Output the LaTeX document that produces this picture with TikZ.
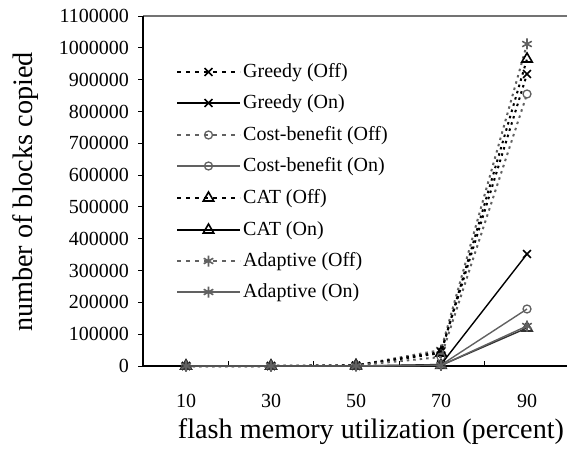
\documentclass[tikz,border=0pt]{standalone}
\usepackage{fontspec}
\setmainfont{Liberation Serif}
\usetikzlibrary{plotmarks}
\begin{document}
\begin{tikzpicture}[x=1pt,y=-1pt,
  tick/.style={font=\fontsize{20}{20}\selectfont},
  ttl/.style={font=\fontsize{28.2}{28.2}\selectfont},
  leg/.style={font=\fontsize{20}{20}\selectfont,anchor=west,inner sep=0pt},
  blk/.style={draw=black},
  gry/.style={draw=black!62},
  dgry/.style={draw=black!80},
  onl/.style={line width=1.4pt},
  offl/.style={line width=2pt,dash pattern=on 2.5pt off 4pt},
  legoff/.style={line width=1.3pt,dash pattern=on 4pt off 5pt},
  legon/.style={line width=1.4pt},
  mx/.style={mark=x,mark size=5.5pt,mark options={solid,line width=1.6pt}},
  mo/.style={mark=o,mark size=4pt,mark options={solid,line width=1.3pt}},
  mt/.style={mark=triangle,mark size=6pt,mark options={solid,line width=1.6pt}},
  ma/.style={mark=asterisk,mark size=5.5pt,mark options={solid,line width=1.6pt}}]
\useasboundingbox (0,0) rectangle (567,454);
% axes
\draw[black!55,line width=1.2pt] (143,16) -- (567,16);
\draw[black,line width=1.3pt] (143,16) -- (143,366) -- (567,366);
\foreach \i/\vv in {0/0,1/100000,2/200000,3/300000,4/400000,5/500000,6/600000,7/700000,8/800000,9/900000,10/1000000,11/1100000}{
  \pgfmathsetmacro{\yy}{366-\i*31.8}
  \draw[line width=1pt] (138,\yy) -- (143,\yy);
  \node[tick,anchor=east,inner sep=0pt] (yl\i) at (129,\yy) {\vv};
}
\foreach \xx in {228.6,313.9,399.2,484.5}{\draw[line width=1pt] (\xx,361) -- (\xx,366);}
\foreach \xx/\l in {186/10,271/30,356/50,441/70,527/90}{\node[tick] (xl\l) at (\xx,401) {\l};}
\node[ttl] (xt) at (371,432) {flash memory utilization (percent)};
\node[ttl,rotate=90] (yt) at (26,192) {number of blocks copied};
% off lines
\draw[offl,gry,ma] plot coordinates {(186,366) (271,366) (356,365.4) (441,350) (527,44)};
\draw[offl,blk,mt] plot coordinates {(186,366) (271,366) (356,365.4) (441,353) (527,59)};
\draw[offl,blk,mx] plot coordinates {(186,366) (271,366) (356,365.4) (441,352) (527,74)};
\draw[offl,gry,mo] plot coordinates {(186,366) (271,366) (356,365.5) (441,357) (527,94)};
% on lines
\draw[onl,blk,mx] plot coordinates {(186,366) (271,366) (356,366) (441,364.5) (527,254)};
\draw[onl,gry,mo] plot coordinates {(186,366) (271,366) (356,366) (441,365) (527,309)};
\draw[onl,dgry,mt] plot coordinates {(186,366) (271,366) (356,366) (441,365.4) (527,328)};
\draw[onl,gry,ma] plot coordinates {(186,366) (271,366) (356,366) (441,365.4) (527,326)};
% legend
\foreach \yy/\ls/\cl/\mk/\txt/\nm in {
  72/legoff/blk/mx/Greedy (Off)/l1,
  103/legon/blk/mx/Greedy (On)/l2,
  135/legoff/gry/mo/Cost-benefit (Off)/l3,
  166/legon/gry/mo/Cost-benefit (On)/l4,
  198/legoff/blk/mt/CAT (Off)/l5,
  230/legon/blk/mt/CAT (On)/l6,
  261/legoff/gry/ma/Adaptive (Off)/l7,
  292/legon/gry/ma/Adaptive (On)/l8}{
  \coordinate (\nm a) at (177,\yy);
  \coordinate (\nm b) at (240,\yy);
  \draw[\ls,\cl] (\nm a) -- (\nm b);
  \draw[\ls,\cl,\mk] plot coordinates {(208.5,\yy)};
  \node[leg] (\nm t) at (243,\yy+1) {\txt};
}
\end{tikzpicture}
\end{document}
